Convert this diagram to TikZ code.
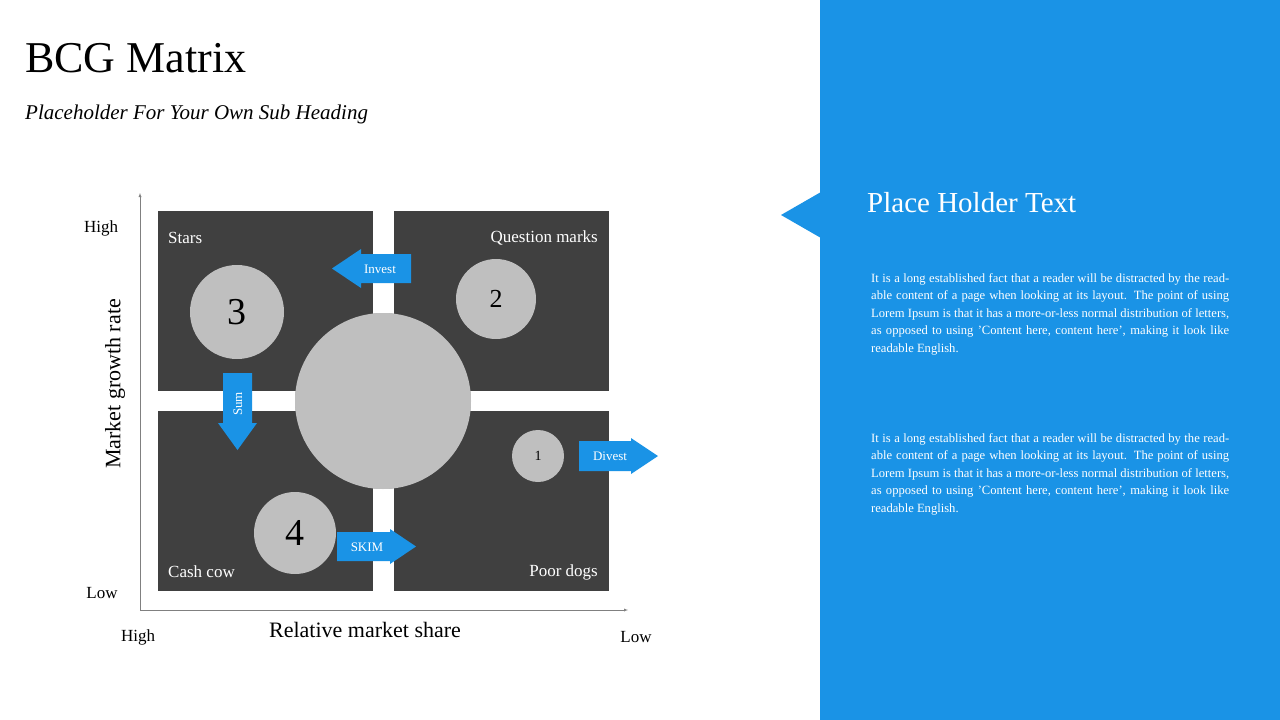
\documentclass[tikz,border=0pt]{standalone}
\usepackage{fontspec}
\setmainfont{Liberation Serif}
\usetikzlibrary{shadows}
\definecolor{bblue}{HTML}{1A93E6}
\definecolor{dgray}{HTML}{404040}
\definecolor{lgray}{HTML}{BFBFBF}
\definecolor{agray}{HTML}{808080}
\begin{document}
\begin{tikzpicture}[x=1pt,y=-1pt,
  quad/.style={fill=dgray},
  bub/.style={circle,fill=lgray,inner sep=0pt,drop shadow={shadow xshift=0pt,shadow yshift=0pt,opacity=0.5,fill=black!70}},
  qlab/.style={text=white,font=\fontsize{17}{17}\selectfont,inner sep=0pt},
  alab/.style={font=\fontsize{17}{17}\selectfont,inner sep=0pt},
  arr/.style={fill=bblue},
  atxt/.style={text=white,font=\fontsize{13}{13}\selectfont,inner sep=0pt},
  para/.style={text=white,text width=358pt,align=justify,anchor=north west,inner sep=0pt,font=\fontsize{12.6}{17.6}\selectfont}]
\useasboundingbox (0,0) rectangle (1280,720);
\fill[white] (0,0) rectangle (1280,720);
\fill[bblue] (820,0) rectangle (1280,720);
\fill[bblue] (781,215) -- (821,192) -- (821,238) -- cycle;
\node[anchor=base west,inner sep=0pt,font=\fontsize{44}{44}\selectfont] (title) at (25,72) {BCG Matrix};
\node[anchor=base west,inner sep=0pt,font=\fontsize{21}{21}\selectfont\itshape] (sub) at (25,119) {Placeholder For Your Own Sub Heading};
% quadrants
\fill[quad] (158,211) rectangle (373,391);
\fill[quad] (394,211) rectangle (609,391);
\fill[quad] (158,411) rectangle (373,591);
\fill[quad] (394,411) rectangle (609,591);
% axes
\coordinate (o) at (140,610);
\coordinate (ytop) at (140,193);
\coordinate (xend) at (628,610);
\draw[agray,-latex] (o) -- (ytop);
\draw[agray,-latex] (o) -- (xend);
\node[alab] (hy) at (101,228) {High};
\node[alab] (ly) at (102,593) {Low};
\node[alab] (hx) at (138,637) {High};
\node[alab] (lx) at (636,637) {Low};
\node[alab,rotate=90,font=\fontsize{22}{22}\selectfont] (yl) at (115,384) {Market growth rate};
\node[alab,font=\fontsize{22}{22}\selectfont] (xl) at (365,630) {Relative market share};
% labels
\node[qlab,anchor=west] (stars) at (168,238) {Stars};
\node[qlab,anchor=east] (qm) at (598,238) {Question marks};
\node[qlab,anchor=west] (cc) at (168,572) {Cash cow};
\node[qlab,anchor=east] (pd) at (598,572) {Poor dogs};
% bubbles
\node[bub,minimum size=176pt] (big) at (383,401) {};
\node[bub,minimum size=94pt,font=\fontsize{38}{38}\selectfont] (b3) at (237,312) {3};
\node[bub,minimum size=80pt,font=\fontsize{26}{26}\selectfont] (b2) at (496,299) {2};
\node[bub,minimum size=52pt,font=\fontsize{14}{14}\selectfont] (b1) at (538,456) {1};
\node[bub,minimum size=82pt,font=\fontsize{38}{38}\selectfont] (b4) at (295,533) {4};
% arrows
\fill[arr] (332,268.5) -- (361,249) -- (361,254) -- (411,254) -- (411,283) -- (361,283) -- (361,288) -- cycle;
\node[atxt] (inv) at (380,269) {Invest};
\fill[arr] (237.5,450) -- (218,423) -- (223,423) -- (223,373) -- (252,373) -- (252,423) -- (257,423) -- cycle;
\node[atxt,rotate=90] (sum) at (238,404) {Sum};
\fill[arr] (658,456) -- (631,438) -- (631,441) -- (579,441) -- (579,471) -- (631,471) -- (631,474) -- cycle;
\node[atxt] (div) at (610,456) {Divest};
\fill[arr] (416,546.5) -- (390,529) -- (390,532) -- (337,532) -- (337,561) -- (390,561) -- (390,564) -- cycle;
\node[atxt] (skim) at (367,547) {SKIM};
% right text
\node[anchor=base west,inner sep=0pt,text=white,font=\fontsize{29}{29}\selectfont] (ph) at (867,212) {Place Holder Text};
\node[para] (p1) at (871,273) {It is a long established fact that a reader will be distracted by the readable content of a page when looking at its layout. The point of using Lorem Ipsum is that it has a more-or-less normal distribution of letters, as opposed to using 'Content here, content here', making it look like readable English.};
\node[para] (p2) at (871,433) {It is a long established fact that a reader will be distracted by the readable content of a page when looking at its layout. The point of using Lorem Ipsum is that it has a more-or-less normal distribution of letters, as opposed to using 'Content here, content here', making it look like readable English.};
\end{tikzpicture}
\end{document}
